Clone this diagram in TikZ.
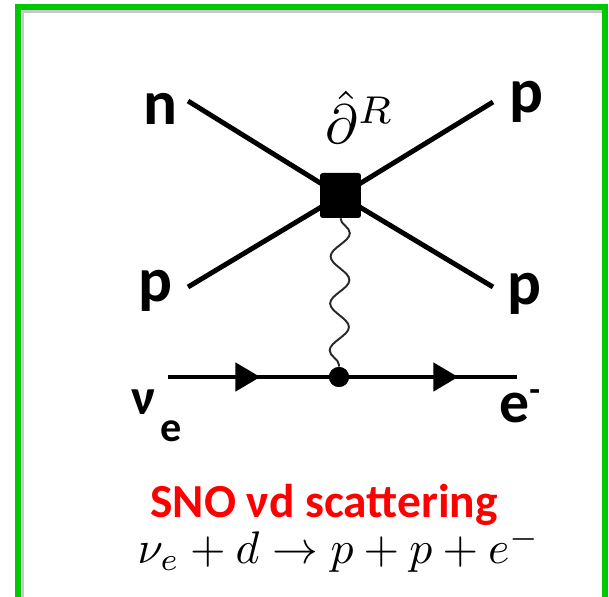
\documentclass[tikz,border=0pt]{standalone}
\usepackage{fontspec}
\setsansfont{Carlito}
\usetikzlibrary{arrows.meta,decorations.pathmorphing,decorations.markings}
\definecolor{frmgrn}{RGB}{0,200,0}
\definecolor{ttlred}{RGB}{255,0,0}
\definecolor{wavclr}{RGB}{40,40,40}
\definecolor{shdclr}{RGB}{200,200,200}
\newcommand{\bigmath}[2]{\scalebox{#1}{$#2$}}
\tikzset{
  leg/.style={line width=2.8pt,color=black},
  fer/.style={line width=2.8pt,color=black,postaction={decorate},
    decoration={markings,mark=at position #1 with
      {\arrow{Triangle[length=0.5cm,width=0.56cm]}}}},
  wig/.style={line width=1.1pt,color=wavclr,decorate,
    decoration={snake,amplitude=0.19cm,segment length=0.94cm}},
  opblk/.style={rectangle,rounded corners=1.5pt,fill=black,draw=none,
    minimum width=0.82cm,minimum height=0.9cm,inner sep=0pt},
  vdot/.style={circle,fill=black,minimum size=0.4cm,inner sep=0pt},
  plbl/.style={font=\sffamily\bfseries\fontsize{36}{40}\selectfont,inner sep=0pt},
  ttl/.style={font=\sffamily\bfseries\fontsize{27}{30}\selectfont,text=ttlred,inner sep=0pt},
}
\begin{document}
\begin{tikzpicture}[x=0.02cm,y=-0.02cm]
  \clip (0,0) rectangle (609,597);
  % frame
  \draw[shdclr,line width=0.06cm] (23,597) -- (23,12) -- (603,12);
  \draw[frmgrn,line width=0.12cm] (18,7) rectangle (605,600);

  % legs of the contact vertex
  \coordinate (vtx)   at (340.5,195.5);
  \coordinate (nin)   at (188,101);
  \coordinate (pin)   at (188,287);
  \coordinate (pout1) at (493,102);
  \coordinate (pout2) at (493,287);
  \foreach \a in {nin,pin,pout1,pout2}
    \draw[leg] (\a) -- (vtx);
  \node[opblk] (op) at (vtx) {};

  % lepton line
  \coordinate (nuin) at (168,377);
  \coordinate (eout) at (517,377);
  \node[vdot] (dot) at (339,377) {};
  \draw[fer=0.54] (nuin) -- (dot.center);
  \draw[fer=0.67] (dot.center) -- (eout);
  \node[vdot] at (dot) {};
  \draw[wig] (op.south) -- (dot.north);

  % labels
  \node[plbl,anchor=base] (nlbl)  at (160,125) {n};
  \node[plbl,anchor=base] (p1lbl) at (526,113) {p};
  \node[plbl,anchor=base] (p2lbl) at (155,302) {p};
  \node[plbl,anchor=base] (p3lbl) at (524,305) {p};
  \node[inner sep=0pt,anchor=base west,font=\sffamily\bfseries] (nulbl) at (131,415)
    {\fontsize{29}{30}\selectfont ν\kern3pt\raisebox{-15pt}{\fontsize{24}{26}\selectfont e}};
  \node[inner sep=0pt,anchor=base west,font=\sffamily\bfseries] (elbl) at (499,423)
    {\fontsize{34}{36}\selectfont e\raisebox{12pt}{\fontsize{20}{22}\selectfont -}};
  \node[inner sep=0pt,anchor=base west] (oplbl) at (325,144) {\bigmath{3.15}{\hat{\partial}^{R}}};

  \node[ttl,anchor=base] (title) at (324,518) {SNO νd scattering};
  \node[inner sep=0pt,anchor=base] (reac) at (339,564) {\bigmath{2.6}{\nu_e+d\to p+p+e^-}};
\end{tikzpicture}
\end{document}
